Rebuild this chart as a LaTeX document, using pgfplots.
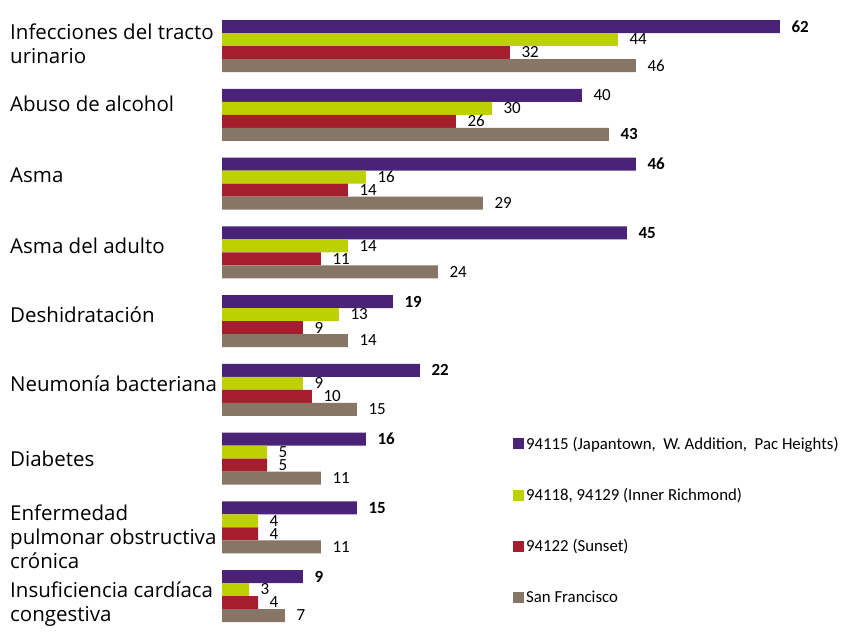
\documentclass[border=0pt]{standalone}
\usepackage{pgfplots}
\pgfplotsset{compat=1.18}
\usepackage{fontspec}
\setmainfont{Carlito}
\newfontfamily\catfont{Open Sans}
\definecolor{cpur}{RGB}{74,35,120}
\definecolor{cyel}{RGB}{189,208,0}
\definecolor{cred}{RGB}{165,30,45}
\definecolor{cgry}{RGB}{135,117,101}
\begin{document}
\begin{tikzpicture}
\begin{axis}[
  at={(222pt,-11.625pt)}, anchor=north west,
  scale only axis, width=619pt, height=618.75pt,
  xmin=0, xmax=68.78, ymin=-0.5, ymax=8.5,
  hide axis, clip=false,
  xbar, bar width=13pt,
  point meta=explicit symbolic,
  nodes near coords,
  every node near coord/.append style={font=\fontsize{17}{18}\selectfont, anchor=west, xshift=8pt, text=black},
  legend style={draw=none, fill=none, at={(0.470,0.316)}, anchor=north west,
    font=\fontsize{16.8}{18}\selectfont, row sep=33.4pt, inner sep=0pt,
    cells={anchor=west}},
  legend image code/.code={\fill[#1] (0pt,-5.5pt) rectangle (11pt,5.5pt);},
  legend cell align=left,
]
\addplot[fill=cpur, draw=none, bar shift=19.5pt] table[meta=l] {
x y l
62 8 \textbf{62}
40 7 40
46 6 \textbf{46}
45 5 \textbf{45}
19 4 \textbf{19}
22 3 \textbf{22}
16 2 \textbf{16}
15 1 \textbf{15}
9 0 \textbf{9}
};
\addplot[fill=cyel, draw=none, bar shift=6.5pt] table[meta=l] {
x y l
44 8 44
30 7 30
16 6 16
14 5 14
13 4 13
9 3 9
5 2 5
4 1 4
3 0 3
};
\addplot[fill=cred, draw=none, bar shift=-6.5pt] table[meta=l] {
x y l
32 8 32
26 7 26
14 6 14
11 5 11
9 4 9
10 3 10
5 2 5
4 1 4
4 0 4
};
\addplot[fill=cgry, draw=none, bar shift=-19.5pt] table[meta=l] {
x y l
46 8 46
43 7 \textbf{43}
29 6 29
24 5 24
14 4 14
15 3 15
11 2 11
11 1 11
7 0 7
};
\legend{{94115 (Japantown,\ \ W. Addition,\ \ Pac Heights)}, {94118, 94129 (Inner Richmond)}, {94122 (Sunset)}, {San Francisco}}
\end{axis}
\begin{scope}[every node/.style={anchor=west, align=left, inner sep=0pt, font=\catfont\fontsize{20.5}{24}\selectfont}]
\node at (10pt,-44pt) {Infecciones del tracto\\urinario};
\node at (10pt,-104pt) {Abuso de alcohol};
\node at (10pt,-175pt) {Asma};
\node at (10pt,-246pt) {Asma del adulto};
\node at (10pt,-315pt) {Deshidratación};
\node at (10pt,-384pt) {Neumonía bacteriana};
\node at (10pt,-459pt) {Diabetes};
\node at (10pt,-537pt) {Enfermedad\\pulmonar obstructiva\\crónica};
\node at (10pt,-604pt) {Insuficiencia cardíaca\\congestiva};
\end{scope}
\pgfresetboundingbox
\useasboundingbox (0,0) rectangle (841pt,-635pt);
\end{tikzpicture}
\end{document}
